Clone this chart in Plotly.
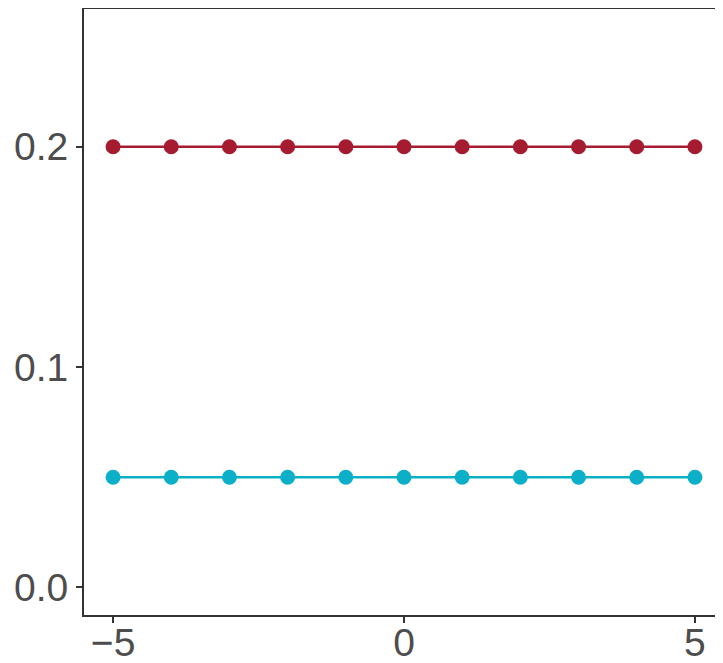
import plotly.graph_objects as go

x_vals = [-5, -4, -3, -2, -1, 0, 1, 2, 3, 4, 5]
red_vals = [0.2] * 11
cyan_vals = [0.05] * 11
x_ticks = [-5, 0, 5]
x_tick_text = ["\u22125", "0", "5"]
y_ticks = [0.0, 0.1, 0.2]
y_tick_text = ["0.0", "0.1", "0.2"]

RED = "#A51C30"
CYAN = "#0BAFC8"

fig = go.Figure()
fig.add_trace(go.Scatter(x=x_vals, y=cyan_vals, mode="lines+markers",
                         line=dict(color=CYAN, width=2.5),
                         marker=dict(color=CYAN, size=15), showlegend=False))
fig.add_trace(go.Scatter(x=x_vals, y=red_vals, mode="lines+markers",
                         line=dict(color=RED, width=2.5),
                         marker=dict(color=RED, size=15), showlegend=False))

axis_font = dict(family="Liberation Sans, Arial, sans-serif", size=39, color="#4D4D4D")
fig.update_layout(
    width=715, height=655,
    margin=dict(l=76, r=0, t=1, b=48, autoexpand=False),
    paper_bgcolor="white", plot_bgcolor="white",
    xaxis=dict(range=[-5.5, 5.483], showgrid=False, zeroline=False, automargin=False,
               showline=True, mirror=True, linecolor="#333333", linewidth=2,
               ticks="outside", ticklen=6, tickwidth=2, tickcolor="#333333",
               ticklabelstandoff=-14,
               tickvals=x_ticks, ticktext=x_tick_text, tickfont=axis_font),
    yaxis=dict(range=[-0.0125, 0.2625], showgrid=False, zeroline=False, automargin=False,
               showline=True, mirror=False, linecolor="#333333", linewidth=2,
               ticks="outside", ticklen=6, tickwidth=2, tickcolor="#333333",
               tickvals=y_ticks, ticktext=y_tick_text, tickfont=axis_font),
)
fig.write_html("out.html")
